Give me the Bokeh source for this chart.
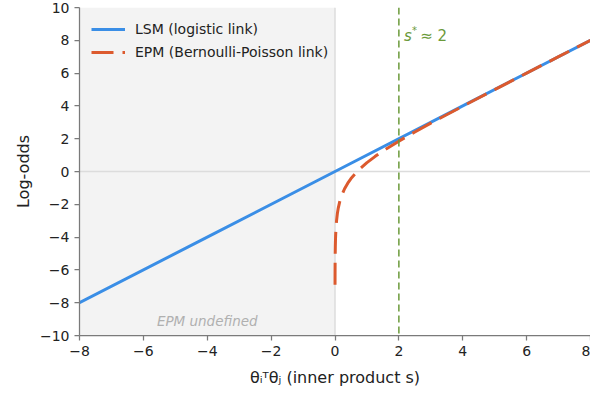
from bokeh.plotting import figure
from bokeh.models import (BoxAnnotation, Span, Label, Legend, LegendItem,
                          FixedTicker, Range1d)
from bokeh.embed import file_html
from bokeh.resources import INLINE

# ---- data ----
lsm_s = [-8, -4, 0, 4, 8]
lsm_logodds = [-8, -4, 0, 4, 8]

epm_s = [0.001, 0.0015, 0.002, 0.003, 0.005, 0.0075, 0.01, 0.015, 0.02, 0.03,
         0.05, 0.075, 0.1, 0.15, 0.2, 0.3, 0.4, 0.5, 0.75, 1.0, 1.25, 1.5,
         2.0, 2.5, 3.0, 4.0, 5.0, 6.0, 7.0, 8.0]
epm_logodds = [-6.91, -6.50, -6.21, -5.81, -5.30, -4.89, -4.60, -4.19, -3.90,
               -3.49, -2.97, -2.55, -2.25, -1.82, -1.51, -1.05, -0.71, -0.43,
               0.11, 0.54, 0.91, 1.25, 1.85, 2.41, 2.95, 3.98, 4.99, 6.00,
               7.00, 8.00]

s_star = 2
x_ticks = [-8, -6, -4, -2, 0, 2, 4, 6, 8]
x_tick_labels = ["\u22128", "\u22126", "\u22124", "\u22122", "0", "2", "4", "6", "8"]
y_ticks = [-10, -8, -6, -4, -2, 0, 2, 4, 6, 8, 10]
y_tick_labels = ["\u221210", "\u22128", "\u22126", "\u22124", "\u22122", "0",
                 "2", "4", "6", "8", "10"]

BLUE = "#3a8ee6"
RED = "#dc5a2e"
GREEN = "#6b9a3a"
FONT = "DejaVu Sans"

p = figure(width=590, height=389, output_backend="svg", toolbar_location=None,
           x_range=Range1d(-8, 8), y_range=Range1d(-10, 10),
           min_border_left=79, min_border_right=0, min_border_top=7,
           min_border_bottom=51)
p.outline_line_color = None
p.xgrid.visible = False
p.ygrid.visible = False
p.background_fill_color = "white"
p.border_fill_color = "white"

# shaded undefined region
p.add_layout(BoxAnnotation(right=0, fill_color="#f3f3f3", fill_alpha=1.0,
                           line_color=None, level="underlay"))
p.add_layout(Span(location=0, dimension="width", line_color="#dcdcdc",
                  line_width=1.5, level="underlay"))
p.add_layout(Span(location=0, dimension="height", line_color="#dcdcdc",
                  line_width=1.5, level="underlay"))
p.add_layout(Span(location=s_star, dimension="height", line_color=GREEN,
                  line_width=1.5, line_dash="7 4"))

r_lsm = p.line(lsm_s, lsm_logodds, line_color=BLUE, line_width=3)
r_epm = p.line(epm_s, epm_logodds, line_color=RED, line_width=3,
               line_dash="22 9")

legend = Legend(items=[LegendItem(label="LSM (logistic link)", renderers=[r_lsm]),
                       LegendItem(label="EPM (Bernoulli-Poisson link)", renderers=[r_epm])],
                location="top_left", background_fill_alpha=0,
                border_line_alpha=0, margin=8, padding=4,
                glyph_width=34, label_standoff=10, spacing=3,
                label_text_font=FONT, label_text_font_size="14px",
                label_text_color="#222222")
p.add_layout(legend)

# axes
for ax in (p.xaxis[0], p.yaxis[0]):
    ax.axis_line_color = "#7a7a7a"
    ax.axis_line_width = 1.25
    ax.major_tick_line_color = "#7a7a7a"
    ax.major_tick_line_width = 1.25
    ax.major_tick_out = 5
    ax.major_tick_in = 0
    ax.minor_tick_line_color = None
    ax.major_label_text_font = FONT
    ax.major_label_text_font_size = "14px"
    ax.major_label_text_color = "#222222"
    ax.axis_label_text_font = FONT
    ax.axis_label_text_font_size = "16px"
    ax.axis_label_text_font_style = "normal"
    ax.axis_label_text_color = "#222222"

p.xaxis.ticker = FixedTicker(ticks=x_ticks)
p.yaxis.ticker = FixedTicker(ticks=y_ticks)
p.xaxis.major_label_overrides = {float(t): l for t, l in zip(x_ticks, x_tick_labels)}
p.yaxis.major_label_overrides = {float(t): l for t, l in zip(y_ticks, y_tick_labels)}
p.yaxis.axis_label = "Log-odds"
p.yaxis.axis_label_standoff = 4
p.xaxis.axis_label = "\u03b8\u1d62\u1d40\u03b8\u2c7c (inner product s)"
p.xaxis.axis_label_standoff = 9

# annotations
p.add_layout(Label(x=-4, y=-9.1, text="EPM undefined", text_align="center",
                   text_font=FONT, text_font_size="13.5px",
                   text_font_style="italic", text_color="#b0b0b0",
                   text_baseline="alphabetic"))
p.add_layout(Label(x=2.16, y=8.24, text="s", text_font=FONT,
                   text_font_size="15px", text_font_style="italic",
                   text_color=GREEN, text_baseline="alphabetic"))
p.add_layout(Label(x=2.41, y=8.62, text="*", text_font=FONT,
                   text_font_size="10px", text_color=GREEN,
                   text_baseline="alphabetic"))
p.add_layout(Label(x=2.67, y=8.24, text="\u2248 2", text_font=FONT,
                   text_font_size="15px", text_color=GREEN,
                   text_baseline="alphabetic"))

open("out.html", "w").write(file_html(p, INLINE))
